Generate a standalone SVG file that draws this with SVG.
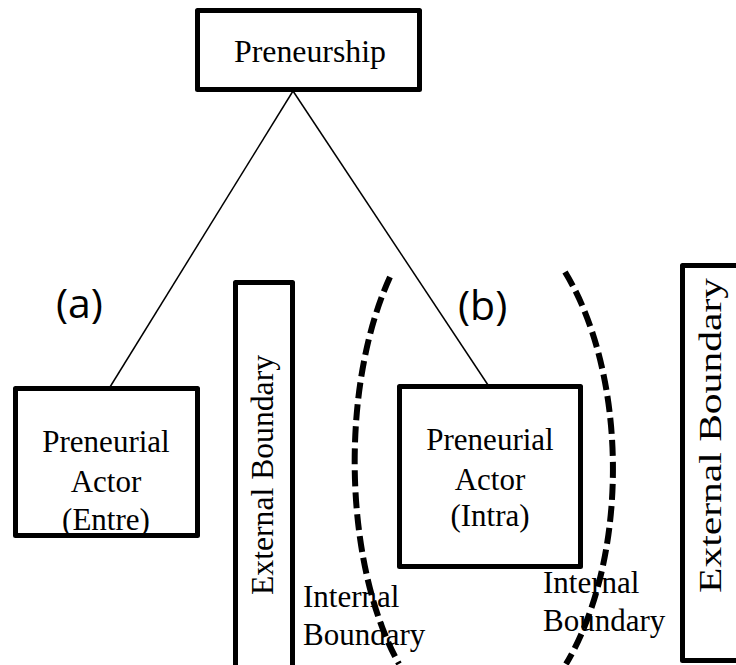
<svg xmlns="http://www.w3.org/2000/svg" width="736" height="665" viewBox="0 0 736 665">
  <style>
    .box { fill: #ffffff; stroke: #000000; stroke-width: 5; stroke-linejoin: round; }
    .link { stroke: #000000; stroke-width: 1.5; fill: none; }
    .boundary { fill: none; stroke: #000000; stroke-width: 6; stroke-dasharray: 16 6; }
    .serif { font-family: "Liberation Serif", "Times New Roman", serif; font-size: 31px; fill: #000000; }
    .tag { font-family: "Open Sans", "Liberation Sans", sans-serif; font-size: 41px; fill: #000000; }
  </style>
  <rect width="736" height="665" fill="#ffffff"/>

  <!-- connectors from the root to both actors -->
  <g id="connectors">
    <line class="link" x1="293" y1="91" x2="110" y2="387"/>
    <line class="link" x1="293" y1="91" x2="488" y2="385"/>
  </g>

  <!-- root node -->
  <g id="preneurship">
    <rect class="box" x="197.5" y="10.5" width="222" height="79"/>
    <text class="serif" x="310" y="62" text-anchor="middle" font-size="32" textLength="152" lengthAdjust="spacingAndGlyphs">Preneurship</text>
  </g>

  <!-- case (a): entrepreneur -->
  <g id="label-a">
    <text class="tag" x="56" y="318">(a)</text>
  </g>
  <g id="actor-entre">
    <rect class="box" x="15.5" y="388.5" width="182" height="147"/>
    <text class="serif" x="106" y="452" text-anchor="middle">Preneurial</text>
    <text class="serif" x="106" y="492" text-anchor="middle">Actor</text>
    <text class="serif" x="106" y="530" text-anchor="middle">(Entre)</text>
  </g>

  <!-- external boundary, left -->
  <g id="external-boundary-left">
    <rect class="box" x="235.5" y="282.5" width="57" height="420"/>
    <text class="serif" transform="translate(273 475) rotate(-90)" text-anchor="middle" textLength="240" lengthAdjust="spacingAndGlyphs">External Boundary</text>
  </g>

  <!-- case (b): intrapreneur inside the internal boundary -->
  <g id="label-b">
    <text class="tag" x="458" y="320">(b)</text>
  </g>
  <g id="actor-intra">
    <rect class="box" x="399.5" y="386.5" width="181" height="180"/>
    <text class="serif" x="490" y="450" text-anchor="middle">Preneurial</text>
    <text class="serif" x="490" y="490" text-anchor="middle">Actor</text>
    <text class="serif" x="490" y="526" text-anchor="middle">(Intra)</text>
  </g>

  <g id="internal-boundary-left-label">
    <text class="serif" x="303" y="607">Internal</text>
    <text class="serif" x="303" y="645">Boundary</text>
  </g>
  <g id="internal-boundary-right-label">
    <text class="serif" x="543" y="593">Internal</text>
    <text class="serif" x="543" y="631">Boundary</text>
  </g>

  <!-- internal boundary drawn as two dashed arcs -->
  <g id="internal-boundary">
    <path class="boundary" d="M390,277 A125,265 0 0 0 399,664"/>
    <path class="boundary" d="M565,272 A141,262 0 0 1 566,664"/>
  </g>

  <!-- external boundary, right -->
  <g id="external-boundary-right">
    <rect class="box" x="682.5" y="265.5" width="80" height="395"/>
    <text class="serif" transform="translate(721 435.5) rotate(-90)" text-anchor="middle" textLength="315" lengthAdjust="spacingAndGlyphs">External Boundary</text>
  </g>
</svg>
